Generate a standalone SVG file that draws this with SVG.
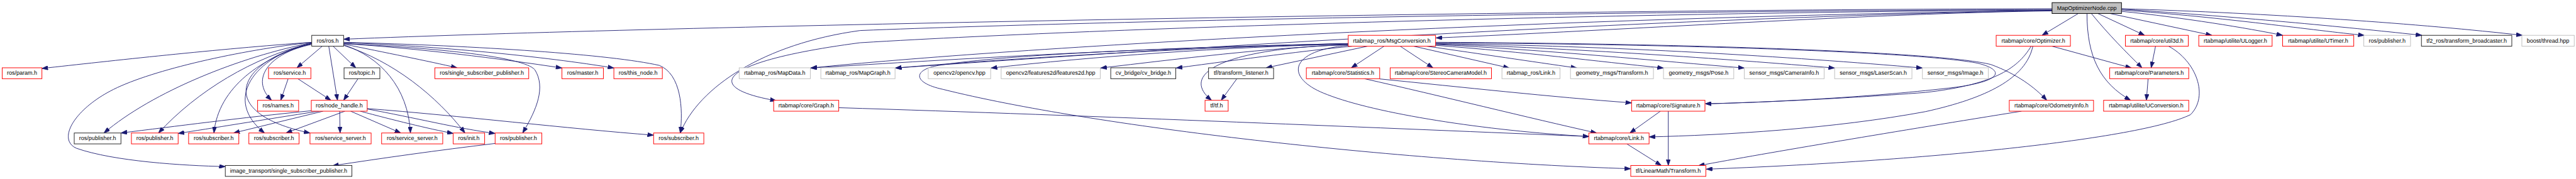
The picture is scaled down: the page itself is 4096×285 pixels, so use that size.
<svg xmlns="http://www.w3.org/2000/svg" width="4096" height="285" viewBox="0 0 4096 285">
<style>
.n rect{fill:#ffffff;stroke-width:1.4}
.r rect{stroke:#ff0000}
.k rect{stroke:#222222}
.g rect{stroke:#bfbfbf}
.root rect{fill:#bfbfbf;stroke:#000000}
text{font-family:"Liberation Sans",Arial,Helvetica,sans-serif;font-size:13px;text-anchor:middle;fill:#000000}
.e{fill:none;stroke:#191970;stroke-width:1.3;marker-end:url(#ah)}
</style>
<defs>
<marker id="ah" markerUnits="userSpaceOnUse" markerWidth="14" markerHeight="10" viewBox="0 0 14 10" refX="14" refY="5" orient="auto">
<path d="M0,0 L14,5 L0,10 z" fill="#191970" stroke="#191970" stroke-width="1"/>
</marker>
</defs>
<rect width="4096" height="285" fill="#ffffff"/>
<g transform="scale(0.694237)">
<g id="edges">
<path class="e" d="M4700,20 C3500,22 1500,60 787,90"/>
<path class="e" d="M4700,22 C3800,25 2600,45 1970,70 C1750,100 1600,200 1558,305"/>
<path class="e" d="M4700,23 C3800,28 2600,60 1970,98 C1650,140 1600,200 1778,231"/>
<path class="e" d="M4700,24 C3500,40 2300,110 1857,156"/>
<path class="e" d="M3088,100 C2600,110 2200,135 1857,156"/>
<path class="e" d="M4700,24 C3800,40 2700,110 2051,156"/>
<path class="e" d="M3088,100 C2700,110 2300,135 2051,156"/>
<path class="e" d="M4700,25 C4300,30 3700,70 3289,87"/>
<path class="e" d="M4760,31 L4677,81"/>
<path class="e" d="M4805,31 L4912,81"/>
<path class="e" d="M4790,31 C4830,80 4870,120 4906,155.5"/>
<path class="e" d="M4780,31 C4780,130 4810,190 4880,230"/>
<path class="e" d="M4833,31 L5066,81"/>
<path class="e" d="M4859,26 C5000,40 5150,65 5228,81"/>
<path class="e" d="M4859,23 C5100,40 5300,70 5415,81"/>
<path class="e" d="M4859,21 C5150,40 5400,65 5547,81"/>
<path class="e" d="M4859,20 C5200,30 5550,55 5777,81"/>
<path class="e" d="M3170,106 L3095,155.5"/>
<path class="e" d="M3207,106 L3282,155.5"/>
<path class="e" d="M3088,103 C2800,110 2700,170 2775,230"/>
<path class="e" d="M3132,106 L2900,155.5"/>
<path class="e" d="M3097,106 C3000,115 2850,135 2694,156"/>
<path class="e" d="M3088,102 C2900,110 2700,135 2521,156"/>
<path class="e" d="M3088,101 C2800,108 2500,130 2270,156"/>
<path class="e" d="M3238,106 L3457,156"/>
<path class="e" d="M3268,106 C3400,125 3500,140 3612,156"/>
<path class="e" d="M3288,104 C3500,120 3650,140 3810,156"/>
<path class="e" d="M3288,102 C3550,115 3800,140 3995,156"/>
<path class="e" d="M3288,101 C3600,110 3950,135 4202,156"/>
<path class="e" d="M3288,100 C3700,105 4100,130 4403,156"/>
<path class="e" d="M3288,98 C3900,102 4400,120 4530,145 C4590,160 4590,185 4480,200 C4300,222 4050,235 3906,238"/>
<path class="e" d="M3288,97 C3900,100 4450,120 4560,148 C4620,170 4660,200 4688,230"/>
<path class="e" d="M3090,104 C2950,115 2940,180 3040,217 C3150,260 3400,300 3639,313"/>
<path class="e" d="M3088,100 C2700,108 2300,125 2150,150 C2090,160 2090,190 2160,205 C2500,290 3200,370 3735,387"/>
<path class="e" d="M714,97 C500,112 250,140 96,157"/>
<path class="e" d="M714,98 C550,130 350,210 238,305"/>
<path class="e" d="M714,99 C580,130 450,210 363,305"/>
<path class="e" d="M714,100 C600,130 500,200 490,305"/>
<path class="e" d="M714,97 C550,115 350,160 260,205 C170,250 130,320 175,340 C260,370 420,380 516,382"/>
<path class="e" d="M738,106 L680,155.5"/>
<path class="e" d="M714,102 C620,120 570,180 622,230"/>
<path class="e" d="M753,106 L773,230"/>
<path class="e" d="M763,106 L815,155.5"/>
<path class="e" d="M714,99 C580,130 510,230 606,305"/>
<path class="e" d="M714,100 C540,140 490,260 710,305"/>
<path class="e" d="M787,103 C870,130 935,200 940,305"/>
<path class="e" d="M787,101 C880,120 980,140 1047,155.5"/>
<path class="e" d="M787,100 C950,110 1150,135 1287,156"/>
<path class="e" d="M787,98 C1000,105 1250,130 1406,156"/>
<path class="e" d="M787,104 C900,140 1000,220 1065,305"/>
<path class="e" d="M787,100 C1000,110 1200,130 1225,160 C1250,200 1230,250 1197,305"/>
<path class="e" d="M787,97 C1100,105 1400,125 1510,150 C1560,170 1565,250 1558,305"/>
<path class="e" d="M660,180.5 L643,230"/>
<path class="e" d="M682,180.5 L758,230"/>
<path class="e" d="M820,180.5 L787,230"/>
<path class="e" d="M713,254 C550,270 400,290 277,305"/>
<path class="e" d="M730,255 C600,275 480,295 408,306"/>
<path class="e" d="M740,255 L535,305"/>
<path class="e" d="M790,255 L655,305"/>
<path class="e" d="M778,255 L779,305"/>
<path class="e" d="M803,255 L918,305"/>
<path class="e" d="M825,255 C900,275 980,295 1038,306"/>
<path class="e" d="M841,250 C950,270 1050,295 1134,306"/>
<path class="e" d="M841,249 C1050,265 1300,295 1497,310"/>
<path class="e" d="M1134,329 C1000,345 880,362 762,380"/>
<path class="e" d="M2833,180.5 L2797,230"/>
<path class="e" d="M1921,247 C2500,265 3200,295 3639,313"/>
<path class="e" d="M3125,180.5 C3300,220 3500,270 3657,305"/>
<path class="e" d="M3160,181 C3350,200 3550,222 3737,236"/>
<path class="e" d="M3803,255 L3733,305"/>
<path class="e" d="M3821,255 L3821,379.5"/>
<path class="e" d="M3726,330 L3805,379.5"/>
<path class="e" d="M4700,106 L4882,156"/>
<path class="e" d="M4652,106 C4620,160 4560,195 4410,212 C4200,228 4000,236 3906,238"/>
<path class="e" d="M4656,106 C4640,180 4550,225 4410,256 C4200,295 3950,310 3777,314"/>
<path class="e" d="M4630,255 C4350,300 4050,350 3890,380"/>
<path class="e" d="M4937,106 L4927,155.5"/>
<path class="e" d="M4967,106 C5030,140 5060,220 5017,263 C4900,320 4400,370 3908,388"/>
<path class="e" d="M4920,180.5 L4916,230"/>
</g>
<g id="n_mon" class="n root"><rect x="4700" y="6" width="159" height="25"/><text x="4779.5" y="22.5">MapOptimizerNode.cpp</text></g>
<g id="n_ros" class="n k"><rect x="714" y="81" width="73" height="25"/><text x="750.5" y="97.5">ros/ros.h</text></g>
<g id="n_msgconv" class="n r"><rect x="3088" y="81" width="200" height="25"/><text x="3188" y="97.5">rtabmap_ros/MsgConversion.h</text></g>
<g id="n_optimizer" class="n r"><rect x="4572" y="81" width="170" height="25"/><text x="4657" y="97.5">rtabmap/core/Optimizer.h</text></g>
<g id="n_util3d" class="n r"><rect x="4868" y="81" width="144" height="25"/><text x="4940" y="97.5">rtabmap/core/util3d.h</text></g>
<g id="n_ulogger" class="n r"><rect x="5036" y="81" width="168" height="25"/><text x="5120" y="97.5">rtabmap/utilite/ULogger.h</text></g>
<g id="n_utimer" class="n r"><rect x="5228" y="81" width="163" height="25"/><text x="5309.5" y="97.5">rtabmap/utilite/UTimer.h</text></g>
<g id="n_pub_gray" class="n g"><rect x="5414" y="81" width="107" height="25"/><text x="5467.5" y="97.5">ros/publisher.h</text></g>
<g id="n_tf2" class="n k"><rect x="5546" y="81" width="207" height="25"/><text x="5649.5" y="97.5">tf2_ros/transform_broadcaster.h</text></g>
<g id="n_boost" class="n g"><rect x="5776" y="81" width="120" height="25"/><text x="5836" y="97.5">boost/thread.hpp</text></g>
<g id="n_param" class="n r"><rect x="5" y="155.5" width="91" height="25"/><text x="50.5" y="172">ros/param.h</text></g>
<g id="n_service" class="n r"><rect x="615" y="155.5" width="97" height="25"/><text x="663.5" y="172">ros/service.h</text></g>
<g id="n_topic" class="n k"><rect x="788" y="155.5" width="82" height="25"/><text x="829" y="172">ros/topic.h</text></g>
<g id="n_ssp" class="n r"><rect x="996" y="155.5" width="215" height="25"/><text x="1103.5" y="172">ros/single_subscriber_publisher.h</text></g>
<g id="n_master" class="n r"><rect x="1287" y="155.5" width="95" height="25"/><text x="1334.5" y="172">ros/master.h</text></g>
<g id="n_thisnode" class="n r"><rect x="1406" y="155.5" width="111" height="25"/><text x="1461.5" y="172">ros/this_node.h</text></g>
<g id="n_mapdata" class="n g"><rect x="1693" y="155.5" width="163" height="25"/><text x="1774.5" y="172">rtabmap_ros/MapData.h</text></g>
<g id="n_mapgraph" class="n g"><rect x="1880" y="155.5" width="170" height="25"/><text x="1965" y="172">rtabmap_ros/MapGraph.h</text></g>
<g id="n_opencv" class="n g"><rect x="2126" y="155.5" width="143" height="25"/><text x="2197.5" y="172">opencv2/opencv.hpp</text></g>
<g id="n_features2d" class="n g"><rect x="2293" y="155.5" width="227" height="25"/><text x="2406.5" y="172">opencv2/features2d/features2d.hpp</text></g>
<g id="n_cvbridge" class="n k"><rect x="2544" y="155.5" width="149" height="25"/><text x="2618.5" y="172">cv_bridge/cv_bridge.h</text></g>
<g id="n_tflistener" class="n k"><rect x="2768" y="155.5" width="149" height="25"/><text x="2842.5" y="172">tf/transform_listener.h</text></g>
<g id="n_statistics" class="n r"><rect x="2992" y="155.5" width="168" height="25"/><text x="3076" y="172">rtabmap/core/Statistics.h</text></g>
<g id="n_stereo" class="n r"><rect x="3184" y="155.5" width="232" height="25"/><text x="3300" y="172">rtabmap/core/StereoCameraModel.h</text></g>
<g id="n_roslink" class="n g"><rect x="3440" y="155.5" width="133" height="25"/><text x="3506.5" y="172">rtabmap_ros/Link.h</text></g>
<g id="n_geotransform" class="n g"><rect x="3597" y="155.5" width="190" height="25"/><text x="3692" y="172">geometry_msgs/Transform.h</text></g>
<g id="n_geopose" class="n g"><rect x="3810" y="155.5" width="161" height="25"/><text x="3890.5" y="172">geometry_msgs/Pose.h</text></g>
<g id="n_caminfo" class="n g"><rect x="3995" y="155.5" width="183" height="25"/><text x="4086.5" y="172">sensor_msgs/CameraInfo.h</text></g>
<g id="n_laser" class="n g"><rect x="4202" y="155.5" width="177" height="25"/><text x="4290.5" y="172">sensor_msgs/LaserScan.h</text></g>
<g id="n_image" class="n g"><rect x="4403" y="155.5" width="151" height="25"/><text x="4478.5" y="172">sensor_msgs/Image.h</text></g>
<g id="n_parameters" class="n r"><rect x="4832" y="155.5" width="181" height="25"/><text x="4922.5" y="172">rtabmap/core/Parameters.h</text></g>
<g id="n_names" class="n r"><rect x="590" y="230" width="94" height="25"/><text x="637" y="246.5">ros/names.h</text></g>
<g id="n_nodehandle" class="n r"><rect x="713" y="230" width="128" height="25"/><text x="777" y="246.5">ros/node_handle.h</text></g>
<g id="n_graph" class="n r"><rect x="1772" y="230" width="149" height="25"/><text x="1846.5" y="246.5">rtabmap/core/Graph.h</text></g>
<g id="n_tf" class="n r"><rect x="2760" y="230" width="53" height="25"/><text x="2786.5" y="246.5">tf/tf.h</text></g>
<g id="n_signature" class="n r"><rect x="3737" y="230" width="168" height="25"/><text x="3821" y="246.5">rtabmap/core/Signature.h</text></g>
<g id="n_odom" class="n r"><rect x="4602" y="230" width="193" height="25"/><text x="4698.5" y="246.5">rtabmap/core/OdometryInfo.h</text></g>
<g id="n_uconv" class="n r"><rect x="4818" y="230" width="195" height="25"/><text x="4915.5" y="246.5">rtabmap/utilite/UConversion.h</text></g>
<g id="n_pub1" class="n k"><rect x="170" y="305" width="107" height="25"/><text x="223.5" y="321.5">ros/publisher.h</text></g>
<g id="n_pub2" class="n r"><rect x="301" y="305" width="107" height="25"/><text x="354.5" y="321.5">ros/publisher.h</text></g>
<g id="n_sub1" class="n r"><rect x="432" y="305" width="115" height="25"/><text x="489.5" y="321.5">ros/subscriber.h</text></g>
<g id="n_sub2" class="n r"><rect x="570" y="305" width="115" height="25"/><text x="627.5" y="321.5">ros/subscriber.h</text></g>
<g id="n_ss1" class="n r"><rect x="710" y="305" width="140" height="25"/><text x="780" y="321.5">ros/service_server.h</text></g>
<g id="n_ss2" class="n r"><rect x="874" y="305" width="140" height="25"/><text x="944" y="321.5">ros/service_server.h</text></g>
<g id="n_init" class="n r"><rect x="1038" y="305" width="72" height="25"/><text x="1074" y="321.5">ros/init.h</text></g>
<g id="n_pub3" class="n r"><rect x="1134" y="305" width="107" height="25"/><text x="1187.5" y="321.5">ros/publisher.h</text></g>
<g id="n_sub3" class="n r"><rect x="1497" y="305" width="115" height="25"/><text x="1554.5" y="321.5">ros/subscriber.h</text></g>
<g id="n_corelink" class="n r"><rect x="3639" y="305" width="138" height="25"/><text x="3708" y="321.5">rtabmap/core/Link.h</text></g>
<g id="n_itssp" class="n k"><rect x="516" y="379.5" width="290" height="25"/><text x="661" y="396">image_transport/single_subscriber_publisher.h</text></g>
<g id="n_linmath" class="n r"><rect x="3735" y="379.5" width="172" height="25"/><text x="3821" y="396">tf/LinearMath/Transform.h</text></g>
</g>
</svg>
